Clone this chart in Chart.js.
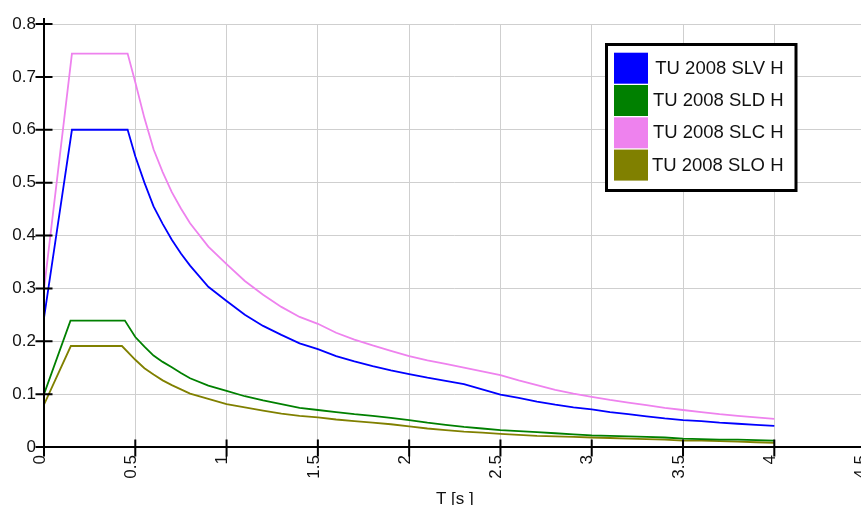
<!DOCTYPE html>
<html><head><meta charset="utf-8">
<script src="https://cdn.jsdelivr.net/npm/chart.js@4/dist/chart.umd.min.js"></script>
<style>
html,body{margin:0;padding:0;background:#fff;overflow:hidden;width:861px;height:505px;}
#wrap{position:absolute;left:0;top:0;width:894px;height:505px;}
</style></head><body>
<div id="wrap"><canvas id="c" width="894" height="505"></canvas></div>
<script>
// Periods T [s] for the descending branch (shared)
const periods = [0.5,0.55,0.6,0.65,0.7,0.75,0.8,0.9,1.0,1.1,1.2,1.3,1.4,1.5,1.6,1.7,1.8,1.9,2.0,2.1,2.2,2.3,2.4,2.5,2.6,2.7,2.8,2.9,3.0,3.1,3.2,3.3,3.4,3.5,3.6,3.7,3.8,3.9,4.0];

// Corner points (T = 0, TB, TC) per series
const slvCornerT = [0, 0.153, 0.458];
const slvCornerA = [0.244, 0.600, 0.600];
const sldCornerT = [0, 0.145, 0.443];
const sldCornerA = [0.100, 0.239, 0.239];
const slcCornerT = [0, 0.153, 0.458];
const slcCornerA = [0.298, 0.744, 0.744];
const sloCornerT = [0, 0.147, 0.427];
const sloCornerA = [0.080, 0.191, 0.191];

// Spectral values on the descending branch
const slvValues = [0.550,0.500,0.455,0.422,0.392,0.366,0.343,0.303,0.276,0.250,0.229,0.212,0.196,0.185,0.172,0.162,0.153,0.145,0.138,0.131,0.125,0.119,0.109,0.099,0.093,0.086,0.080,0.075,0.071,0.066,0.062,0.058,0.054,0.051,0.049,0.046,0.044,0.042,0.040];
const sldValues = [0.208,0.190,0.173,0.161,0.151,0.140,0.130,0.116,0.106,0.096,0.088,0.081,0.074,0.070,0.066,0.062,0.059,0.055,0.051,0.046,0.042,0.038,0.035,0.032,0.030,0.028,0.026,0.024,0.022,0.021,0.020,0.019,0.018,0.016,0.015,0.014,0.014,0.013,0.012];
const slcValues = [0.690,0.622,0.563,0.520,0.482,0.451,0.423,0.379,0.346,0.314,0.288,0.265,0.246,0.233,0.216,0.203,0.192,0.182,0.172,0.164,0.157,0.150,0.143,0.136,0.126,0.117,0.108,0.101,0.095,0.089,0.084,0.079,0.074,0.070,0.066,0.062,0.059,0.056,0.053];
const sloValues = [0.165,0.149,0.137,0.126,0.117,0.109,0.101,0.091,0.081,0.075,0.069,0.063,0.059,0.056,0.052,0.049,0.046,0.043,0.039,0.035,0.032,0.029,0.027,0.025,0.023,0.021,0.020,0.019,0.018,0.017,0.016,0.015,0.014,0.012,0.012,0.011,0.010,0.009,0.008];

const seriesNames = ['TU 2008 SLV H','TU 2008 SLD H','TU 2008 SLC H','TU 2008 SLO H'];
const seriesColors = ['#0000ff','#008000','#ee82ee','#808000'];

const xTickValues = [0,0.5,1,1.5,2,2.5,3,3.5,4,4.5];
const xTickLabels = ['0','0.5','1','1.5','2','2.5','3','3.5','4','4.5'];
const yTickValues = [0,0.1,0.2,0.3,0.4,0.5,0.6,0.7,0.8];
const yTickLabels = ['0','0.1','0.2','0.3','0.4','0.5','0.6','0.7','0.8'];
const xTitle = 'T [s ]';

function build(cT, cA, vals){
  const pts = cT.map((t,i)=>({x:t,y:cA[i]}));
  periods.forEach((t,i)=>pts.push({x:t,y:vals[i]}));
  return pts;
}
const allData = [
  build(slvCornerT, slvCornerA, slvValues),
  build(sldCornerT, sldCornerA, sldValues),
  build(slcCornerT, slcCornerA, slcValues),
  build(sloCornerT, sloCornerA, sloValues)
];

const FONT = '"Liberation Sans", Arial, sans-serif';

const axesPlugin = {
  id:'axesCross',
  afterDatasetsDraw(chart){
    const ctx = chart.ctx, xs = chart.scales.x, ys = chart.scales.y;
    const x0 = xs.getPixelForValue(0), y0 = ys.getPixelForValue(0);
    ctx.save();
    ctx.strokeStyle = '#000'; ctx.lineWidth = 2;
    ctx.beginPath();
    ctx.moveTo(x0, ys.getPixelForValue(0.8) - 6); ctx.lineTo(x0, y0);
    ctx.moveTo(x0 - 8, y0); ctx.lineTo(chart.width, y0);
    yTickValues.forEach(v=>{ const y = ys.getPixelForValue(v); ctx.moveTo(x0-8.5,y); ctx.lineTo(x0+8.5,y); });
    xTickValues.forEach(v=>{ const x = xs.getPixelForValue(v); ctx.moveTo(x,y0-7.5); ctx.lineTo(x,y0+9.5); });
    ctx.stroke();
    ctx.restore();
  },
  afterDraw(chart){
    const ctx = chart.ctx;
    ctx.save();
    ctx.fillStyle = '#fff';
    ctx.fillRect(606, 44, 190, 146);
    ctx.strokeStyle = '#000'; ctx.lineWidth = 3;
    ctx.strokeRect(606.5, 44.5, 189.5, 146);
    ctx.font = '18.5px ' + FONT;
    ctx.textAlign = 'right'; ctx.textBaseline = 'middle';
    chart.data.datasets.forEach((ds,i)=>{
      const top = 52.7 + i*32.3;
      ctx.fillStyle = ds.borderColor;
      ctx.fillRect(614, top, 34, 31);
      ctx.fillStyle = '#111';
      ctx.fillText(ds.label, 783.5, top + 16);
    });
    ctx.restore();
  }
};

new Chart(document.getElementById('c'), {
  type:'line',
  data:{
    datasets: allData.map((d,i)=>({
      label: seriesNames[i], data:d, borderColor: seriesColors[i], backgroundColor: seriesColors[i],
      borderWidth: 1.8, pointRadius:0, tension:0, fill:false
    }))
  },
  options:{
    responsive:false, animation:false, devicePixelRatio:1,
    layout:{padding:{top:24,right:12,bottom:0,left:0}},
    plugins:{legend:{display:false}, tooltip:{enabled:false}},
    scales:{
      x:{
        type:'linear', min:0, max:4.5,
        afterBuildTicks(s){ s.ticks = xTickValues.map(v=>({value:v})); },
        afterFit(s){ s.height = 58; },
        border:{display:false},
        grid:{color:'#cfcfcf', borderDash:[1,1], drawTicks:false, lineWidth:1},
        ticks:{ minRotation:90, maxRotation:90, padding:8, labelOffset:-4, color:'#111',
          font:{family:FONT, size:17},
          callback:(v,i)=>xTickLabels[i] },
        title:{display:true, text:xTitle, color:'#111', font:{family:FONT, size:17}, padding:{top:0,bottom:-5}}
      },
      y:{
        type:'linear', min:0, max:0.8,
        afterBuildTicks(s){ s.ticks = yTickValues.map(v=>({value:v})); },
        afterFit(s){ s.width = 44; },
        border:{display:false},
        grid:{color:'#cfcfcf', borderDash:[1,1], drawTicks:false, lineWidth:1},
        ticks:{ padding:8, color:'#111', font:{family:FONT, size:17},
          callback:(v,i)=>yTickLabels[i] }
      }
    }
  },
  plugins:[axesPlugin]
});
</script>
</body></html>
